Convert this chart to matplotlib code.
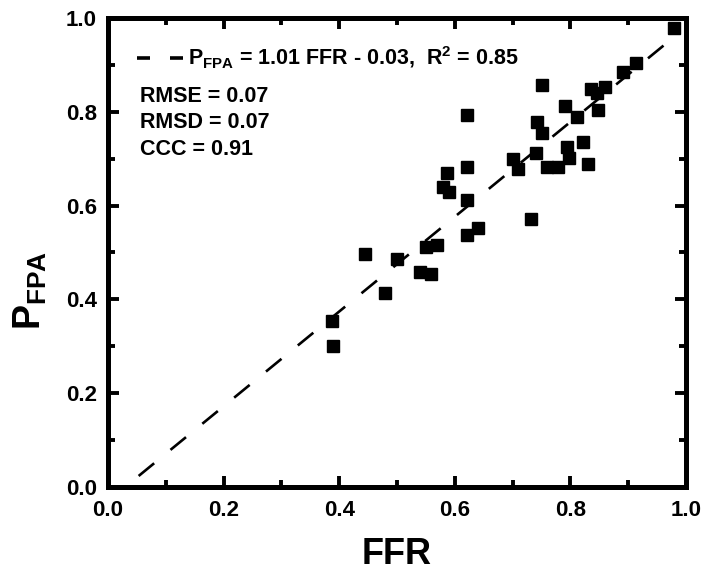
import matplotlib
matplotlib.use("Agg")
import matplotlib.pyplot as plt
import numpy as np
from matplotlib.ticker import MultipleLocator

plt.rcParams['font.family'] = ['Liberation Sans', 'DejaVu Sans']
plt.rcParams['font.weight'] = 'bold'
plt.rcParams['mathtext.fontset'] = 'custom'
plt.rcParams['mathtext.rm'] = 'Liberation Sans:bold'
plt.rcParams['mathtext.bf'] = 'Liberation Sans:bold'
plt.rcParams['mathtext.it'] = 'Liberation Sans:bold'

ffr = [0.388, 0.389, 0.445, 0.479, 0.500, 0.540, 0.559, 0.550, 0.569, 0.621,
       0.640, 0.621, 0.587, 0.580, 0.590, 0.621, 0.621, 0.700, 0.709, 0.732,
       0.740, 0.742, 0.751, 0.751, 0.759, 0.779, 0.791, 0.794, 0.797, 0.811,
       0.822, 0.830, 0.836, 0.846, 0.848, 0.860, 0.891, 0.913, 0.980]
pfpa = [0.354, 0.300, 0.497, 0.414, 0.486, 0.458, 0.454, 0.512, 0.516, 0.537,
        0.552, 0.612, 0.670, 0.640, 0.629, 0.682, 0.793, 0.699, 0.677, 0.571,
        0.712, 0.778, 0.755, 0.857, 0.682, 0.682, 0.812, 0.725, 0.702, 0.789,
        0.736, 0.689, 0.849, 0.840, 0.804, 0.853, 0.885, 0.904, 0.978]

slope, intercept = 1.01, -0.03
fit_x = [0.053, 0.99]
stats_lines = ["RMSE = 0.07", "RMSD = 0.07", "CCC = 0.91"]
ticks = [0.0, 0.2, 0.4, 0.6, 0.8, 1.0]

fig = plt.figure(figsize=(7.13, 5.76), dpi=100)
ax = fig.add_axes([0.1515, 0.1545, 0.8105, 0.8145])

lw = 1.9
fx = np.array(fit_x)
ax.plot(fx, slope * fx + intercept, color='black', lw=lw, dashes=(7.6, 8.0),
        label=r"$\mathbf{P_{FPA}}$ = 1.01 FFR - 0.03,  $\mathbf{R^2}$ = 0.85", zorder=2)
ax.plot(ffr, pfpa, 's', color='black', markersize=9.2, zorder=3)

ax.set_xlim(0, 1)
ax.set_ylim(0, 1)
ax.set_xticks(ticks)
ax.set_yticks(ticks)
ax.set_xticklabels([f"{t:.1f}" for t in ticks])
ax.set_yticklabels([f"{t:.1f}" for t in ticks])
ax.xaxis.set_minor_locator(MultipleLocator(0.1))
ax.yaxis.set_minor_locator(MultipleLocator(0.1))
ax.tick_params(which='both', direction='in', top=True, right=True, width=2.8)
ax.tick_params(which='major', length=8, labelsize=16)
ax.tick_params(axis='x', which='major', pad=9)
ax.tick_params(axis='y', which='major', pad=8)
ax.tick_params(which='minor', length=5)
for s in ax.spines.values():
    s.set_linewidth(3.6)
for lab in ax.get_xticklabels() + ax.get_yticklabels():
    lab.set_fontweight('bold')

ax.set_xlabel("FFR", fontsize=26, fontweight='bold', labelpad=12)
ax.set_ylabel(r"$\mathbf{P_{FPA}}$", fontsize=27)
ax.yaxis.set_label_coords(-0.102, 0.42)

leg = ax.legend(loc='center left', frameon=False, fontsize=15.5, handlelength=2.14,
                bbox_to_anchor=(0.050, 0.9137), borderaxespad=0, borderpad=0,
                handletextpad=0.25)
for t in leg.get_texts():
    t.set_fontweight('bold')
hl = leg.get_lines()[0]
hl.set_linewidth(2.6)
hl.set_dashes((13 * 0.72 / 2.6, 20 * 0.72 / 2.6))

for i, s in enumerate(stats_lines):
    ax.text(0.055, 0.8326 - i * 0.0565, s, transform=ax.transAxes, fontsize=15.5,
            fontweight='bold', va='center', ha='left')

fig.savefig("out.png", dpi=100)
